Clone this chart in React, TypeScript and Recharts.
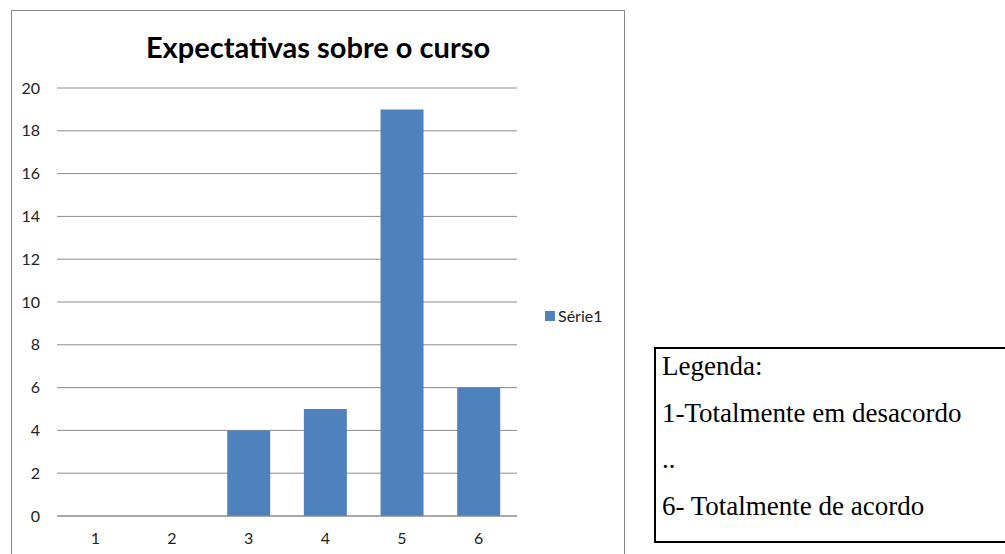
import React from 'react';
import { BarChart, Bar, XAxis, YAxis, CartesianGrid } from 'recharts';

const categories = ['1', '2', '3', '4', '5', '6'];
const serie1 = [0, 0, 4, 5, 19, 6];
const yTicks = [0, 2, 4, 6, 8, 10, 12, 14, 16, 18, 20];
const seriesName = 'Série1';
const legendLines = ['Legenda:', '1-Totalmente em desacordo', '..', '6- Totalmente de acordo'];

const data = categories.map((c, i) => ({ name: c, value: serie1[i] }));

const App: React.FC = () => {
  return (
    <div style={{ position: 'absolute', left: 0, top: 0, width: 1005, height: 554, overflow: 'hidden', background: '#fff' }}>
      {/* chart frame */}
      <div style={{ position: 'absolute', left: 11, top: 10, width: 612, height: 600, border: '1px solid #878787' }} />

      <div
        style={{
          position: 'absolute', left: 11, width: 614, top: 27, textAlign: 'center',
          fontFamily: 'Lato', fontWeight: 700, fontSize: 29, color: '#000', lineHeight: '40px',
        }}
      >
        Expectativas sobre o curso
      </div>

      <div style={{ position: 'absolute', left: 0, top: 0 }}>
        <BarChart width={624} height={554} data={data} margin={{ top: 88, right: 107, bottom: 8, left: 11 }} barCategoryGap="22%">
          <CartesianGrid vertical={false} stroke="#8c8c8c" />
          <XAxis
            dataKey="name"
            height={30}
            tickLine={false}
            tickSize={6}
            tickMargin={11}
            axisLine={{ stroke: '#8c8c8c' }}
            tick={{ fontFamily: 'Lato', fontSize: 16, fill: '#222' }}
          />
          <YAxis
            width={46}
            domain={[0, 20]}
            ticks={yTicks}
            interval={0}
            tickLine={false}
            axisLine={false}
            tickSize={6}
            tickMargin={11}
            tick={{ fontFamily: 'Lato', fontSize: 16, fill: '#222' }}
          />
          <Bar dataKey="value" name={seriesName} fill="#4f81bd" isAnimationActive={false} />
        </BarChart>
      </div>

      {/* series legend */}
      <div style={{ position: 'absolute', left: 545, top: 311, width: 10, height: 10, background: '#4f81bd' }} />
      <div style={{ position: 'absolute', left: 558, top: 305, fontFamily: 'Lato', fontSize: 16, lineHeight: '22px', color: '#222' }}>
        {seriesName}
      </div>

      {/* legend box */}
      <div
        style={{
          position: 'absolute', left: 654, top: 347, width: 400, height: 192,
          border: '2px solid #000', fontFamily: '"Liberation Serif"', fontSize: 27, color: '#000',
        }}
      >
        {legendLines.map((t, i) => (
          <div key={i} style={{ position: 'absolute', left: 6, top: 2 + i * 46.7, lineHeight: '30px', whiteSpace: 'nowrap' }}>
            {t}
          </div>
        ))}
      </div>
    </div>
  );
};

export default App;
